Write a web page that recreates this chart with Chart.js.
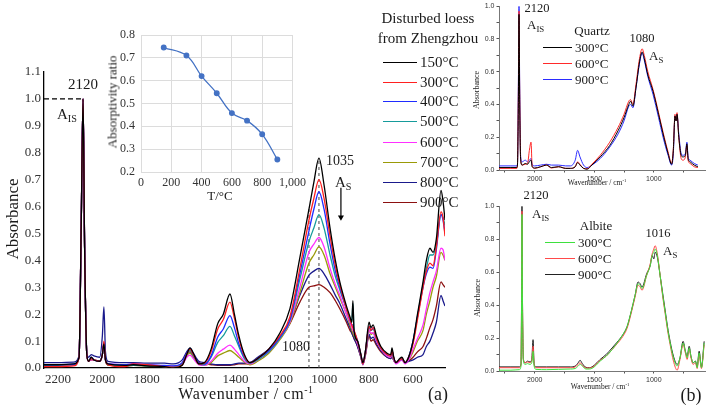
<!DOCTYPE html>
<html>
<head>
<meta charset="utf-8">
<script src="https://cdn.jsdelivr.net/npm/chart.js@4.4.1/dist/chart.umd.min.js"></script>
<style>
  body { margin: 0; background: #fff; }
  #wrap { position: relative; width: 708px; height: 409px; overflow: hidden; background: #fff;
          font-family: 'Liberation Serif', 'Times New Roman', serif; color: #1a1a1a; }
  canvas { position: absolute; }
  .t { position: absolute; white-space: nowrap; line-height: 1; transform: translate(-50%, -50%); }
  .l { position: absolute; white-space: nowrap; line-height: 1; transform: translateY(-50%); }
  .v { position: absolute; white-space: nowrap; line-height: 1; transform: translate(-50%, -50%) rotate(-90deg); }
  .sw { position: absolute; height: 0; border-top: 1.5px solid; }
  sub { font-size: 68%; vertical-align: -0.35em; line-height: 0; }
  sup { font-size: 62%; vertical-align: 0.6em; line-height: 0; }
</style>
</head>
<body>
<div id="wrap">
  <canvas id="mainChart" width="470" height="409" style="left:0;top:0"></canvas>
  <canvas id="insetChart" width="210" height="185" style="left:100px;top:20px"></canvas>
  <canvas id="quartzChart" width="248" height="200" style="left:460px;top:0"></canvas>
  <canvas id="albiteChart" width="248" height="209" style="left:460px;top:200px"></canvas>

  <!-- panel (a) -->
  <div class="v" style="left:12px;top:219px;font-size:17px">Absorbance</div>
  <div class="t" style="left:246px;top:394px;font-size:16px;letter-spacing:0.6px">Wavenumber / cm<sup>-1</sup></div>
  <div class="t" style="left:438px;top:394px;font-size:18px">(a)</div>
  <div class="t" style="left:83px;top:84px;font-size:15px">2120</div>
  <div class="l" style="left:57px;top:114px;font-size:15px">A<sub>IS</sub></div>
  <div class="t" style="left:340px;top:161px;font-size:14px">1035</div>
  <div class="l" style="left:335px;top:182px;font-size:15px">A<sub>S</sub></div>
  <div class="t" style="left:296px;top:347px;font-size:14px">1080</div>

  <div class="t" style="left:428px;top:18px;font-size:15px">Disturbed loess</div>
  <div class="t" style="left:428px;top:38px;font-size:15px">from Zhengzhou</div>
  <div id="mainLegend"></div>

  <!-- inset -->
  <div class="v" style="left:112px;top:102px;font-size:13px">Absorptivity ratio</div>
  <div class="t" style="left:220px;top:195px;font-size:13px">T/°C</div>

  <!-- panel (b) -->
  <div class="v" style="left:477px;top:90px;font-size:8px">Absorbance</div>
  <div class="t" style="left:597px;top:183px;font-size:7.5px">Wavenumber / cm<sup>-1</sup></div>
  <div class="t" style="left:537px;top:8px;font-size:12.5px">2120</div>
  <div class="l" style="left:527px;top:24px;font-size:13px">A<sub>IS</sub></div>
  <div class="t" style="left:592px;top:30px;font-size:13px">Quartz</div>
  <div class="t" style="left:642px;top:38px;font-size:12.5px">1080</div>
  <div class="l" style="left:649px;top:55px;font-size:13px">A<sub>S</sub></div>
  <div id="quartzLegend"></div>

  <div class="v" style="left:478px;top:298px;font-size:8px">Absorbance</div>
  <div class="t" style="left:600px;top:387px;font-size:7.5px">Wavenumber / cm<sup>-1</sup></div>
  <div class="t" style="left:536px;top:195px;font-size:12.5px">2120</div>
  <div class="l" style="left:532px;top:213px;font-size:13px">A<sub>IS</sub></div>
  <div class="t" style="left:596px;top:225px;font-size:13px">Albite</div>
  <div class="t" style="left:658px;top:233px;font-size:12.5px">1016</div>
  <div class="l" style="left:663px;top:250px;font-size:13px">A<sub>S</sub></div>
  <div id="albiteLegend"></div>
  <div class="t" style="left:691px;top:395px;font-size:18px">(b)</div>
</div>

<script>
// ---- panel (a): disturbed loess from Zhengzhou ----
const mainWavenumber = [2263, 2200, 2130, 2105, 2095, 2087, 2080, 2070, 2062, 2050, 2038, 2012, 2000, 1993, 1986, 1975,
  1900, 1860, 1800, 1720, 1680, 1640, 1620, 1605, 1590, 1565, 1540, 1510, 1480, 1455, 1425, 1405, 1385, 1360, 1335,
  1300, 1250, 1200, 1155, 1110, 1069, 1047, 1024, 1001, 974, 950, 930, 900, 884, 876, 871, 866, 850, 835, 826, 815,
  798, 790, 780, 765, 745, 717, 700, 695, 688, 677, 660, 650, 636, 620, 600, 580, 555, 540, 524, 510, 495, 474, 465, 456];

const loess150 = [0.012, 0.012, 0.015, 0.04, 0.55, 1.0, 0.45, 0.05, 0.025, 0.04, 0.03, 0.025, 0.05, 0.09, 0.03, 0.015,
  0.01, 0.012, 0.008, 0.005, 0.0, 0.01, 0.05, 0.075, 0.055, 0.015, 0.02, 0.07, 0.165, 0.2, 0.275, 0.2, 0.12, 0.05, 0.02,
  0.035, 0.07, 0.13, 0.22, 0.41, 0.59, 0.69, 0.78, 0.68, 0.52, 0.4, 0.32, 0.23, 0.19, 0.17, 0.25, 0.14, 0.1, 0.05, 0.02, 0.06,
  0.17, 0.15, 0.16, 0.12, 0.08, 0.055, 0.05, 0.075, 0.045, 0.02, 0.035, 0.04, 0.02, 0.04, 0.1, 0.2, 0.32, 0.4, 0.445, 0.43, 0.48, 0.66, 0.62, 0.55];
const loess300 = [0.005, 0.005, 0.008, 0.04, 0.55, 1.0, 0.45, 0.05, 0.025, 0.035, 0.03, 0.025, 0.05, 0.1, 0.03, 0.012,
  0.005, 0.015, 0.012, 0.005, 0.002, 0.012, 0.05, 0.07, 0.05, 0.015, 0.018, 0.06, 0.145, 0.18, 0.245, 0.185, 0.11, 0.045, 0.02,
  0.035, 0.07, 0.12, 0.19, 0.37, 0.55, 0.63, 0.70, 0.63, 0.49, 0.38, 0.31, 0.22, 0.18, 0.16, 0.15, 0.14, 0.1, 0.05, 0.015, 0.06,
  0.155, 0.14, 0.15, 0.11, 0.075, 0.05, 0.045, 0.065, 0.04, 0.02, 0.03, 0.035, 0.02, 0.04, 0.09, 0.18, 0.3, 0.36, 0.39, 0.38, 0.45, 0.58, 0.56, 0.49];
const loess400 = [0.012, 0.012, 0.014, 0.04, 0.55, 1.0, 0.45, 0.05, 0.025, 0.04, 0.03, 0.025, 0.05, 0.095, 0.03, 0.015,
  0.012, 0.015, 0.012, 0.01, 0.008, 0.02, 0.055, 0.072, 0.05, 0.018, 0.015, 0.045, 0.115, 0.145, 0.195, 0.15, 0.09, 0.04, 0.02,
  0.035, 0.065, 0.115, 0.18, 0.35, 0.51, 0.59, 0.655, 0.59, 0.46, 0.36, 0.3, 0.22, 0.18, 0.16, 0.16, 0.14, 0.1, 0.05, 0.015, 0.06,
  0.155, 0.14, 0.15, 0.11, 0.075, 0.05, 0.045, 0.065, 0.04, 0.02, 0.03, 0.035, 0.02, 0.04, 0.1, 0.19, 0.3, 0.35, 0.375, 0.37, 0.44, 0.57, 0.55, 0.5];
const loess500 = [0.01, 0.01, 0.012, 0.04, 0.55, 1.0, 0.45, 0.05, 0.025, 0.035, 0.03, 0.025, 0.05, 0.09, 0.03, 0.012,
  0.008, 0.01, 0.008, 0.005, 0.004, 0.015, 0.05, 0.065, 0.045, 0.015, 0.012, 0.04, 0.095, 0.12, 0.155, 0.12, 0.08, 0.035, 0.018,
  0.03, 0.06, 0.11, 0.175, 0.33, 0.47, 0.52, 0.57, 0.52, 0.42, 0.34, 0.29, 0.22, 0.18, 0.17, 0.24, 0.14, 0.1, 0.05, 0.015, 0.06,
  0.15, 0.14, 0.145, 0.11, 0.075, 0.05, 0.045, 0.065, 0.04, 0.02, 0.03, 0.035, 0.02, 0.04, 0.1, 0.19, 0.31, 0.37, 0.42, 0.42, 0.46, 0.57, 0.56, 0.53];
const loess600 = [0.008, 0.008, 0.01, 0.04, 0.55, 1.0, 0.45, 0.05, 0.025, 0.03, 0.03, 0.025, 0.05, 0.09, 0.03, 0.015,
  0.012, 0.015, 0.012, 0.008, 0.006, 0.012, 0.04, 0.048, 0.035, 0.012, 0.01, 0.025, 0.055, 0.07, 0.085, 0.07, 0.05, 0.025, 0.015,
  0.03, 0.06, 0.11, 0.17, 0.3, 0.43, 0.46, 0.485, 0.45, 0.37, 0.31, 0.27, 0.2, 0.17, 0.15, 0.14, 0.13, 0.09, 0.045, 0.012, 0.05,
  0.14, 0.13, 0.13, 0.1, 0.07, 0.045, 0.04, 0.06, 0.035, 0.015, 0.025, 0.03, 0.015, 0.03, 0.07, 0.11, 0.16, 0.22, 0.28, 0.32, 0.36, 0.445, 0.44, 0.4];
const loess700 = [0.008, 0.008, 0.01, 0.04, 0.55, 1.0, 0.45, 0.05, 0.025, 0.03, 0.03, 0.025, 0.05, 0.085, 0.03, 0.012,
  0.008, 0.01, 0.008, 0.006, 0.005, 0.014, 0.045, 0.055, 0.04, 0.014, 0.01, 0.02, 0.045, 0.055, 0.065, 0.055, 0.04, 0.022, 0.012,
  0.025, 0.055, 0.105, 0.165, 0.28, 0.39, 0.42, 0.45, 0.42, 0.35, 0.3, 0.26, 0.2, 0.16, 0.14, 0.13, 0.12, 0.09, 0.045, 0.012, 0.05,
  0.14, 0.125, 0.13, 0.1, 0.07, 0.045, 0.04, 0.06, 0.035, 0.018, 0.03, 0.035, 0.02, 0.03, 0.06, 0.1, 0.14, 0.2, 0.25, 0.3, 0.34, 0.43, 0.42, 0.4];
const loess800 = [0.02, 0.02, 0.022, 0.045, 0.55, 1.0, 0.45, 0.06, 0.04, 0.05, 0.045, 0.04, 0.12, 0.227, 0.06, 0.025,
  0.02, 0.02, 0.018, 0.018, 0.015, 0.03, 0.06, 0.074, 0.055, 0.025, 0.02, 0.015, 0.012, 0.012, 0.012, 0.015, 0.018, 0.018, 0.02,
  0.04, 0.07, 0.115, 0.17, 0.27, 0.345, 0.36, 0.37, 0.35, 0.31, 0.27, 0.24, 0.18, 0.15, 0.13, 0.12, 0.11, 0.08, 0.04, 0.015, 0.05,
  0.125, 0.11, 0.115, 0.09, 0.065, 0.04, 0.035, 0.05, 0.03, 0.02, 0.03, 0.03, 0.02, 0.025, 0.03, 0.04, 0.05, 0.08, 0.1, 0.13, 0.17, 0.27, 0.25, 0.23];
const loess900 = [0.008, 0.008, 0.01, 0.04, 0.55, 1.0, 0.45, 0.05, 0.025, 0.03, 0.03, 0.025, 0.05, 0.09, 0.03, 0.012,
  0.008, 0.01, 0.008, 0.006, 0.006, 0.018, 0.05, 0.06, 0.045, 0.02, 0.015, 0.012, 0.01, 0.01, 0.01, 0.012, 0.015, 0.015, 0.015,
  0.035, 0.065, 0.11, 0.165, 0.245, 0.3, 0.305, 0.31, 0.3, 0.28, 0.25, 0.22, 0.17, 0.14, 0.13, 0.12, 0.11, 0.08, 0.04, 0.015, 0.045,
  0.12, 0.1, 0.105, 0.085, 0.06, 0.04, 0.035, 0.05, 0.03, 0.02, 0.03, 0.035, 0.02, 0.025, 0.04, 0.06, 0.08, 0.11, 0.15, 0.18, 0.23, 0.32, 0.31, 0.3];

const loessLabels = ['150°C', '300°C', '400°C', '500°C', '600°C', '700°C', '800°C', '900°C'];
const mainXTicks = [2200, 2000, 1800, 1600, 1400, 1200, 1000, 800, 600];
const mainYTicks = [0, 0.1, 0.2, 0.3, 0.4, 0.5, 0.6, 0.7, 0.8, 0.9, 1.0, 1.1];

// marker lines in panel (a)
const isPeakWavenumber = 2087;
const isReferenceLevel = 1.0;
const shoulderWavenumber = 1069;
const shoulderHeight = 0.59;
const mainPeakWavenumber = 1024;
const mainPeakHeight = 0.78;
const arrowWavenumber = 925;
const arrowFrom = 0.67;
const arrowTo = 0.56;

// ---- inset: absorptivity ratio ----
const insetTemperature = [150, 300, 400, 500, 600, 700, 800, 900];
const absorptivityRatio = [0.745, 0.71, 0.62, 0.545, 0.458, 0.425, 0.365, 0.255];
const insetXTicks = [0, 200, 400, 600, 800, 1000];
const insetYTicks = [0.2, 0.3, 0.4, 0.5, 0.6, 0.7, 0.8];

// ---- panel (b): quartz ----
const quartzWavenumber = [2300, 2200, 2150, 2145, 2137, 2132, 2126, 2118, 2105, 2080, 2060, 2045, 2031, 2022, 2000, 1950,
  1900, 1860, 1800, 1740, 1700, 1660, 1640, 1620, 1590, 1560, 1520, 1450, 1370, 1300, 1250, 1210, 1195, 1175, 1150, 1120,
  1098, 1080, 1050, 1006, 960, 922, 880, 850, 836, 822, 813, 805, 790, 770, 755, 735, 722, 712, 695, 660, 630];
const quartz300 = [0.015, 0.015, 0.015, 0.03, 0.45, 0.95, 0.4, 0.06, 0.03, 0.04, 0.035, 0.05, 0.06, 0.02, 0.012, 0.02,
  0.03, 0.015, 0.02, 0.01, 0.01, 0.02, 0.045, 0.03, 0.01, 0.005, 0.03, 0.08, 0.15, 0.24, 0.32, 0.4, 0.42, 0.39, 0.5, 0.66,
  0.72, 0.68, 0.58, 0.48, 0.34, 0.22, 0.1, 0.035, 0.12, 0.33, 0.3, 0.34, 0.2, 0.09, 0.08, 0.09, 0.16, 0.07, 0.05, 0.03, 0.02];
const quartz600 = [0.01, 0.01, 0.01, 0.03, 0.5, 0.97, 0.45, 0.06, 0.03, 0.035, 0.04, 0.12, 0.17, 0.03, 0.01, 0.02,
  0.03, 0.012, 0.02, 0.01, 0.01, 0.02, 0.05, 0.035, 0.01, 0.008, 0.035, 0.09, 0.17, 0.26, 0.34, 0.42, 0.43, 0.4, 0.52, 0.68,
  0.74, 0.7, 0.6, 0.49, 0.35, 0.23, 0.11, 0.04, 0.13, 0.34, 0.3, 0.35, 0.2, 0.07, 0.06, 0.08, 0.15, 0.06, 0.04, 0.02, 0.015];
const quartz900 = [0.025, 0.025, 0.025, 0.035, 0.55, 1.0, 0.5, 0.08, 0.05, 0.06, 0.05, 0.06, 0.07, 0.035, 0.025, 0.03,
  0.035, 0.03, 0.03, 0.025, 0.025, 0.06, 0.12, 0.08, 0.03, 0.015, 0.03, 0.07, 0.14, 0.22, 0.3, 0.39, 0.4, 0.38, 0.5, 0.65,
  0.715, 0.67, 0.57, 0.46, 0.32, 0.2, 0.09, 0.03, 0.1, 0.33, 0.3, 0.34, 0.22, 0.1, 0.09, 0.1, 0.17, 0.08, 0.06, 0.04, 0.03];

// ---- panel (b): albite ----
const albiteWavenumber = [2300, 2200, 2130, 2115, 2110, 2107, 2103, 2095, 2080, 2060, 2040, 2025, 2014, 2005, 1990, 1900,
  1800, 1700, 1660, 1635, 1619, 1600, 1570, 1540, 1500, 1451, 1400, 1350, 1308, 1260, 1224, 1190, 1157, 1132, 1115, 1099,
  1060, 1030, 1014, 1000, 989, 970, 947, 925, 905, 885, 863, 835, 804, 780, 754, 735, 720, 703, 688, 670, 650, 636, 619, 600, 577];
const albite300 = [0.005, 0.005, 0.008, 0.03, 0.5, 0.95, 0.45, 0.06, 0.04, 0.045, 0.04, 0.05, 0.12, 0.03, 0.01, 0.008,
  0.01, 0.012, 0.015, 0.03, 0.04, 0.03, 0.012, 0.012, 0.025, 0.06, 0.09, 0.13, 0.17, 0.22, 0.27, 0.36, 0.46, 0.53, 0.52, 0.5,
  0.58, 0.64, 0.7, 0.72, 0.74, 0.7, 0.58, 0.46, 0.36, 0.26, 0.17, 0.08, 0.03, 0.08, 0.17, 0.12, 0.08, 0.14, 0.09, 0.05, 0.06, 0.02, 0.11, 0.02, 0.17];
const albite600 = [0.02, 0.02, 0.02, 0.04, 0.5, 0.97, 0.45, 0.07, 0.05, 0.055, 0.05, 0.06, 0.15, 0.04, 0.02, 0.02,
  0.02, 0.02, 0.025, 0.04, 0.05, 0.035, 0.018, 0.018, 0.03, 0.065, 0.09, 0.13, 0.165, 0.21, 0.26, 0.35, 0.45, 0.52, 0.51, 0.49,
  0.58, 0.65, 0.71, 0.74, 0.76, 0.71, 0.58, 0.45, 0.35, 0.25, 0.16, 0.06, 0.005, 0.07, 0.16, 0.11, 0.07, 0.13, 0.08, 0.04, 0.05, 0.015, 0.1, 0.015, 0.16];
const albite900 = [0.025, 0.025, 0.025, 0.045, 0.5, 1.0, 0.45, 0.07, 0.05, 0.06, 0.055, 0.07, 0.19, 0.045, 0.025, 0.025,
  0.025, 0.025, 0.03, 0.05, 0.065, 0.045, 0.022, 0.02, 0.035, 0.07, 0.1, 0.14, 0.175, 0.22, 0.27, 0.36, 0.46, 0.54, 0.53, 0.51,
  0.59, 0.64, 0.7, 0.68, 0.72, 0.69, 0.58, 0.47, 0.37, 0.27, 0.18, 0.09, 0.04, 0.08, 0.18, 0.12, 0.09, 0.15, 0.09, 0.05, 0.06, 0.025, 0.12, 0.025, 0.18];

const smallLabels = ['300°C', '600°C', '900°C'];
const smallXTicks = [2250, 2000, 1750, 1500, 1250, 1000, 750];
const smallXLabelled = [2000, 1500, 1000];
const smallYTicks = [0, 0.1, 0.2, 0.3, 0.4, 0.5, 0.6, 0.7, 0.8, 0.9, 1.0];

// colours
const loessColors = ['#000000', '#ff2020', '#1f2cff', '#169b9b', '#ff30ff', '#9a9a08', '#1a1a8c', '#8c1010'];
const quartzColors = ['#000000', '#ff2a2a', '#2b2bff'];
const albiteColors = ['#3ee03e', '#ff4a4a', '#222222'];

Chart.defaults.font.family = "'Liberation Serif', 'Times New Roman', serif";
Chart.defaults.color = '#222';

function toPoints(xs, ys) {
    return xs.map((x, i) => ({ x: x, y: ys[i] }));
}
const fixWidth = w => scale => { scale.width = w; };
const fixHeight = h => scale => { scale.height = h; };
const setTicks = values => scale => { scale.ticks = values.map(v => ({ value: v })); };

function addLegend(id, labels, colors, lineLeft, lineWidth, textLeft, rowTops, fontSize) {
    const holder = document.getElementById(id);
    labels.forEach((label, i) => {
        const sw = document.createElement('div');
        sw.className = 'sw';
        sw.style.left = lineLeft + 'px';
        sw.style.width = lineWidth + 'px';
        sw.style.top = rowTops[i] + 'px';
        sw.style.borderTopColor = colors[i];
        holder.appendChild(sw);
        const tx = document.createElement('div');
        tx.className = 'l';
        tx.style.left = textLeft + 'px';
        tx.style.top = rowTops[i] + 'px';
        tx.style.fontSize = fontSize + 'px';
        tx.textContent = label;
        holder.appendChild(tx);
    });
}

const noPlugins = { legend: { display: false }, tooltip: { enabled: false } };

// ---------- main chart ----------
const loessSeries = [loess150, loess300, loess400, loess500, loess600, loess700, loess800, loess900];
const mainDatasets = loessSeries.map((ys, i) => ({
    data: toPoints(mainWavenumber, ys),
    borderColor: loessColors[i],
    borderWidth: 1.3,
    pointRadius: 0,
    cubicInterpolationMode: 'monotone'
}));
mainDatasets.push({
    data: [{ x: mainWavenumber[0], y: isReferenceLevel }, { x: isPeakWavenumber, y: isReferenceLevel }],
    borderColor: '#000', borderWidth: 1.3, borderDash: [5, 3], pointRadius: 0
});
mainDatasets.push({
    data: [{ x: shoulderWavenumber, y: 0 }, { x: shoulderWavenumber, y: shoulderHeight }],
    borderColor: '#444', borderWidth: 1, borderDash: [3, 3], pointRadius: 0
});
mainDatasets.push({
    data: [{ x: mainPeakWavenumber, y: 0 }, { x: mainPeakWavenumber, y: mainPeakHeight }],
    borderColor: '#444', borderWidth: 1, borderDash: [3, 3], pointRadius: 0
});
mainDatasets.push({
    data: [{ x: arrowWavenumber, y: arrowFrom }, { x: arrowWavenumber, y: arrowTo }],
    borderColor: '#000', borderWidth: 1.2, backgroundColor: '#000',
    pointStyle: 'triangle', pointRadius: [0, 3.5], pointRotation: [0, 180], pointBorderWidth: 0
});

new Chart(document.getElementById('mainChart'), {
    type: 'line',
    data: { datasets: mainDatasets },
    options: {
        responsive: false, animation: false, events: [],
        layout: { padding: { left: 0, top: 72, right: 25, bottom: 0 } },
        plugins: noPlugins,
        scales: {
            x: {
                type: 'linear', reverse: true, min: 456, max: 2263,
                afterFit: fixHeight(41), afterBuildTicks: setTicks(mainXTicks),
                grid: { drawOnChartArea: false, drawTicks: false },
                border: { color: '#000', width: 1.3 },
                ticks: { padding: 4, autoSkip: false, maxRotation: 0, font: { size: 13 }, color: '#333', callback: v => v }
            },
            y: {
                min: 0, max: 1.1,
                afterFit: fixWidth(44), afterBuildTicks: setTicks(mainYTicks),
                grid: { drawOnChartArea: false, drawTicks: false },
                border: { color: '#000', width: 1.3 },
                ticks: { padding: 3, font: { size: 13 }, color: '#333', callback: v => v.toFixed(1) }
            }
        }
    }
});
addLegend('mainLegend', loessLabels, loessColors, 383, 34, 420, [62, 82, 101, 121, 142, 162, 182, 202], 15);

// ---------- inset ----------
new Chart(document.getElementById('insetChart'), {
    type: 'line',
    data: {
        datasets: [{
            data: toPoints(insetTemperature, absorptivityRatio),
            borderColor: '#4472c4', backgroundColor: '#4472c4',
            borderWidth: 1.3, pointRadius: 2.3, tension: 0.4
        }]
    },
    options: {
        responsive: false, animation: false, events: [],
        layout: { padding: { left: 0, top: 15, right: 12, bottom: 0 } },
        plugins: noPlugins,
        scales: {
            x: {
                type: 'linear', min: 0, max: 1000,
                afterFit: fixHeight(33), afterBuildTicks: setTicks(insetXTicks),
                grid: { color: '#dcdcdc', drawTicks: false },
                border: { color: '#dcdcdc' },
                ticks: { padding: 4, autoSkip: false, maxRotation: 0, font: { size: 12 }, color: '#333' }
            },
            y: {
                min: 0.2, max: 0.8,
                afterFit: fixWidth(41), afterBuildTicks: setTicks(insetYTicks),
                grid: { color: '#dcdcdc', drawTicks: false },
                border: { color: '#dcdcdc' },
                ticks: { padding: 6, font: { size: 12 }, color: '#333', callback: v => v.toFixed(1) }
            }
        }
    }
});

// ---------- small panels ----------
function smallChart(canvasId, xs, seriesList, colors, padTop, xHeight) {
    new Chart(document.getElementById(canvasId), {
        type: 'line',
        data: {
            datasets: seriesList.map((ys, i) => ({
                data: toPoints(xs, ys),
                borderColor: colors[i], borderWidth: 1, pointRadius: 0,
                cubicInterpolationMode: 'monotone'
            }))
        },
        options: {
            responsive: false, animation: false, events: [],
            layout: { padding: { left: 0, top: padTop, right: 3, bottom: 0 } },
            plugins: noPlugins,
            scales: {
                x: {
                    type: 'linear', reverse: true, min: 570, max: 2300,
                    afterFit: fixHeight(xHeight), afterBuildTicks: setTicks(smallXTicks),
                    grid: { drawOnChartArea: false, tickLength: 2.5, color: '#555' },
                    border: { color: '#777', width: 1 },
                    ticks: {
                        padding: 2, autoSkip: false, maxRotation: 0,
                        font: { family: "'Liberation Sans', Arial, sans-serif", size: 7 }, color: '#333',
                        callback: v => smallXLabelled.includes(v) ? String(v) : ''
                    }
                },
                y: {
                    min: 0, max: 1.0,
                    afterFit: fixWidth(39), afterBuildTicks: setTicks(smallYTicks),
                    grid: { drawOnChartArea: false, tickLength: 2.5, color: '#555' },
                    border: { color: '#777', width: 1 },
                    ticks: {
                        padding: 2, font: { family: "'Liberation Sans', Arial, sans-serif", size: 7 }, color: '#333',
                        callback: (v, i) => i % 2 === 0 ? v.toFixed(1) : ''
                    }
                }
            }
        }
    });
}

smallChart('quartzChart', quartzWavenumber, [quartz300, quartz600, quartz900], quartzColors, 5, 30);
smallChart('albiteChart', albiteWavenumber, [albite300, albite600, albite900], albiteColors, 3, 38);

addLegend('quartzLegend', smallLabels, quartzColors, 543, 29, 575, [47, 63, 79], 13);
addLegend('albiteLegend', smallLabels, albiteColors, 545, 30, 578, [242, 258, 274], 13);
</script>
</body>
</html>
